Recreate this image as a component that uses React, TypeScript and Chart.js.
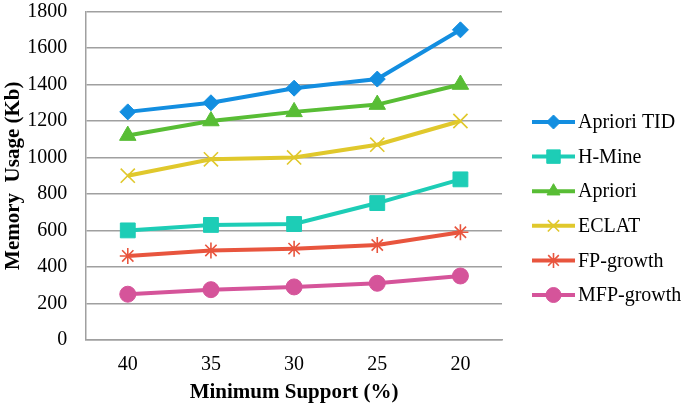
import React, { useEffect, useRef } from 'react';
import { Chart, registerables } from 'chart.js';
import { drawPoint } from 'chart.js/helpers';

Chart.register(...registerables);

const categories = ['40', '35', '30', '25', '20'];
const seriesNames = ['Apriori TID', 'H-Mine', 'Apriori', 'ECLAT', 'FP-growth', 'MFP-growth'];
const aprioriTid = [1250, 1300, 1380, 1430, 1700];
const hMine = [600, 630, 635, 750, 880];
const apriori = [1120, 1200, 1250, 1290, 1400];
const eclat = [900, 990, 1000, 1070, 1200];
const fpGrowth = [460, 490, 500, 520, 590];
const mfpGrowth = [250, 275, 290, 310, 350];

const seriesValues = [aprioriTid, hMine, apriori, eclat, fpGrowth, mfpGrowth];
const colors = ['#138ee0', '#1dcdb6', '#58bd35', '#e0c82c', '#e8553e', '#d5549a'];
const pointStyles = ['rectRot', 'rect', 'triangle', 'crossRot', 'star', 'circle'];
const pointRadii = [8, 10.5, 9.5, 10, 8, 8];
const legendRadii = [7, 9.5, 7.5, 8, 7.5, 7.5];
const pointBorders = [1, 1, 1, 1.6, 1.6, 1];

const FONT = "'Liberation Serif', 'Times New Roman', serif";

const legendPlugin = {
  id: 'lineLegend',
  afterDraw(chart: any) {
    const ctx = chart.ctx;
    const area = chart.chartArea;
    const x0 = area.right + 30;
    const x1 = x0 + 43;
    ctx.save();
    chart.data.datasets.forEach((ds: any, i: number) => {
      const y = 122 + i * 34.6;
      ctx.strokeStyle = ds.borderColor;
      ctx.lineWidth = 4;
      ctx.beginPath();
      ctx.moveTo(x0, y);
      ctx.lineTo(x1, y);
      ctx.stroke();
      ctx.fillStyle = ds.borderColor;
      ctx.strokeStyle = ds.borderColor;
      ctx.lineWidth = pointBorders[i];
      drawPoint(ctx, { pointStyle: pointStyles[i], rotation: 0, borderWidth: pointBorders[i], radius: legendRadii[i] } as any, (x0 + x1) / 2, y);
      ctx.fillStyle = '#000';
      ctx.font = `20px ${FONT}`;
      ctx.textAlign = 'left';
      ctx.textBaseline = 'middle';
      ctx.fillText(ds.label, x1 + 3, y + 1);
    });
    ctx.restore();
  },
};

export default function App() {
  const ref = useRef<HTMLCanvasElement | null>(null);
  useEffect(() => {
    document.body.style.margin = '0';
    const chart = new Chart(ref.current as HTMLCanvasElement, {
      type: 'line',
      data: {
        labels: categories,
        datasets: seriesNames.map((name, i) => ({
          label: name,
          data: seriesValues[i],
          borderColor: colors[i],
          backgroundColor: colors[i],
          pointBackgroundColor: colors[i],
          pointBorderColor: colors[i],
          borderWidth: 4,
          pointStyle: pointStyles[i] as any,
          pointRadius: pointRadii[i],
          pointBorderWidth: pointBorders[i],
          tension: 0,
        })),
      },
      options: {
        animation: false,
        responsive: false,
        layout: { padding: { left: 0, right: 183, top: 0, bottom: 1 } },
        plugins: {
          legend: { display: false },
          tooltip: { enabled: false },
        },
        scales: {
          x: {
            offset: true,
            grid: { display: false, drawTicks: false },
            border: { display: true, color: '#a0a0a0', width: 1.5 },
            ticks: { color: '#000', font: { family: FONT, size: 20, lineHeight: 1 }, padding: 15 },
            title: {
              display: true,
              text: 'Minimum Support (%)',
              color: '#000',
              font: { family: FONT, size: 21, weight: 'bold' },
              padding: { top: -10, bottom: 0 },
            },
          },
          y: {
            min: 0,
            max: 1800,
            ticks: {
              stepSize: 200,
              color: '#000',
              font: { family: FONT, size: 20, lineHeight: 1 },
              padding: 0,
              callback: (v: any) => String(v),
            },
            grid: { color: '#a0a0a0', lineWidth: 1.5, drawTicks: true, tickLength: 19, tickColor: 'rgba(0,0,0,0)' },
            border: { display: true, color: '#a0a0a0', width: 1.5 },
            title: {
              display: true,
              text: 'Memory  Usage (Kb)',
              color: '#000',
              font: { family: FONT, size: 21, weight: 'bold' },
              padding: { top: 1, bottom: 1 },
            },
          },
        },
      },
      plugins: [legendPlugin],
    });
    return () => chart.destroy();
  }, []);
  return (
    <div style={{ position: 'absolute', left: 0, top: 0, width: 685, height: 406 }}>
      <canvas ref={ref} width={685} height={406} style={{ width: 685, height: 406 }} />
    </div>
  );
}
